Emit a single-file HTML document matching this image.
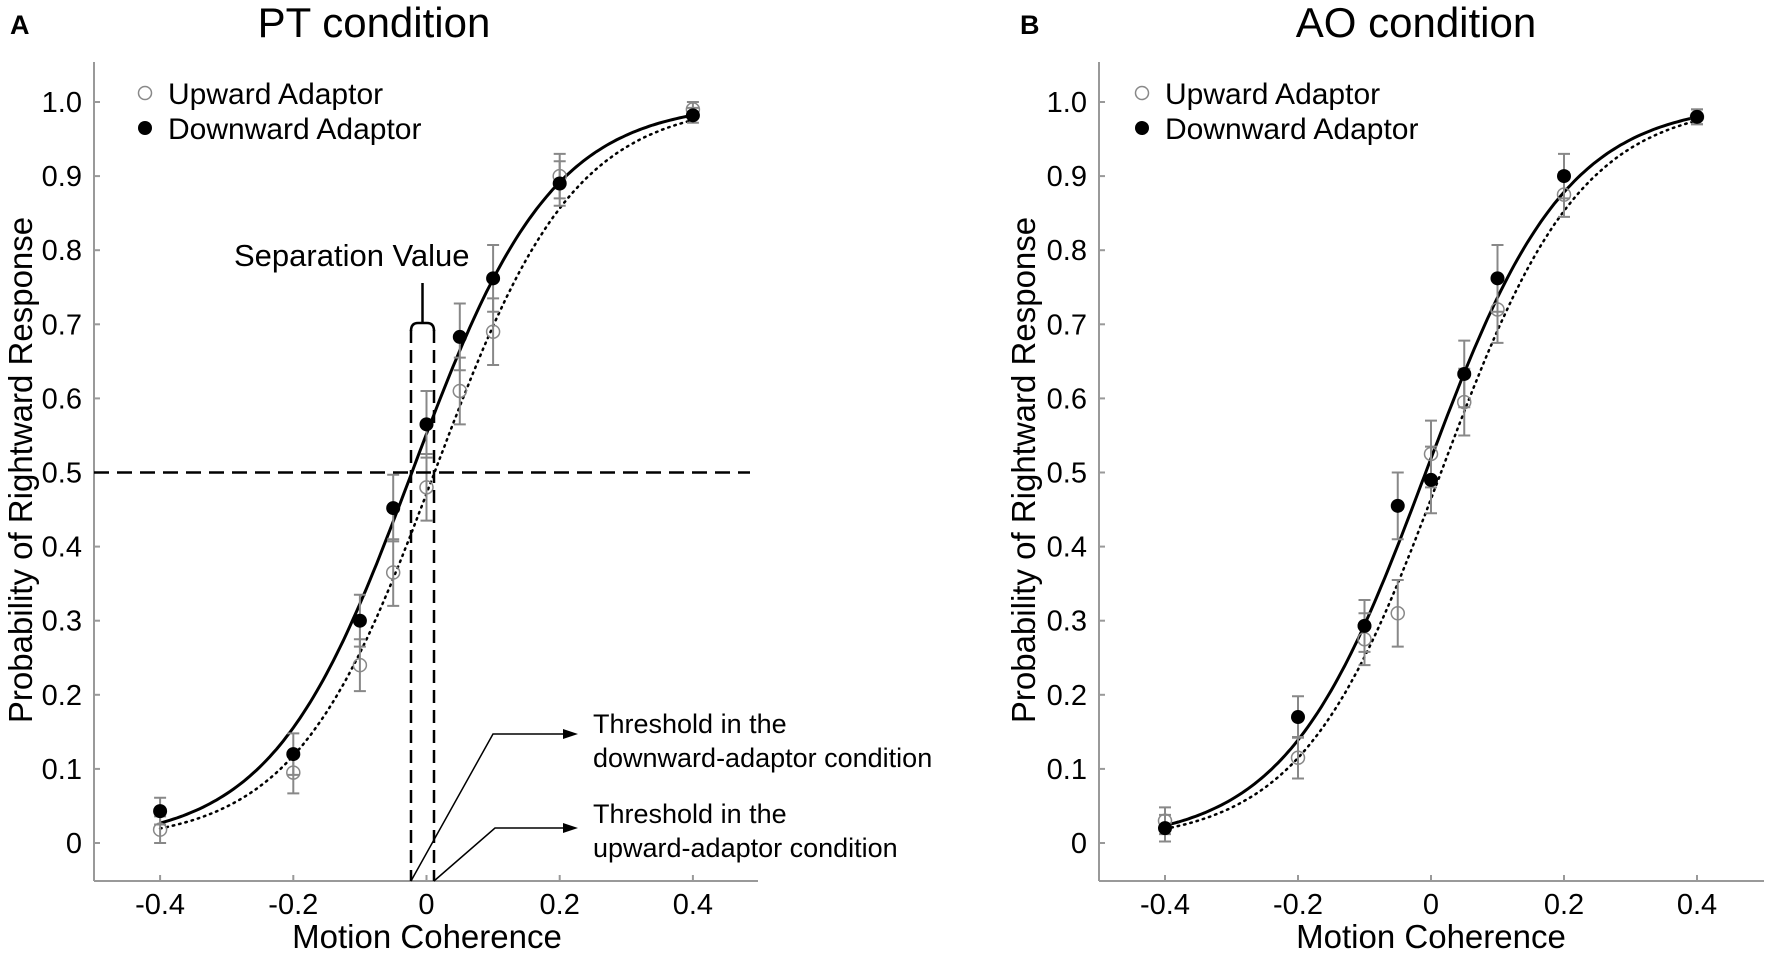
<!DOCTYPE html>
<html><head><meta charset="utf-8"><style>
html,body{margin:0;padding:0;background:#fff;}
svg{display:block;font-family:"Liberation Sans",sans-serif;}
</style></head><body>
<svg id="s" width="1772" height="957" viewBox="0 0 1772 957" xmlns="http://www.w3.org/2000/svg">
<rect width="1772" height="957" fill="#fff"/>
<text x="10" y="34" font-size="27" font-weight="bold">A</text>
<text x="374" y="37" font-size="42" text-anchor="middle">PT condition</text>
<text x="1020" y="34" font-size="27" font-weight="bold">B</text>
<text x="1416" y="37" font-size="42" text-anchor="middle">AO condition</text>
<g id="A"></g><g id="B"></g>
<text x="234" y="266" font-size="31">Separation Value</text>
<g font-size="27">
<text x="593" y="733">Threshold in the</text>
<text x="593" y="767">downward-adaptor condition</text>
<text x="593" y="823">Threshold in the</text>
<text x="593" y="857">upward-adaptor condition</text>
</g>
</svg>
<script>
const NS="http://www.w3.org/2000/svg";
function el(p,t,a,txt){const e=document.createElementNS(NS,t);for(const k in a)e.setAttribute(k,a[k]);if(txt!==undefined)e.textContent=txt;p.appendChild(e);return e;}
function panel(g,P){
 const X=v=>P.x0+v*P.sx, Y=v=>843-v*741;
 el(g,"line",{x1:P.ax,y1:62,x2:P.ax,y2:881,stroke:"#999","stroke-width":2});
 el(g,"line",{x1:P.ax,y1:881,x2:P.ar,y2:881,stroke:"#999","stroke-width":2});
 for(let i=0;i<=10;i++){const y=Y(i/10);el(g,"line",{x1:P.ax,y1:y,x2:P.ax+6,y2:y,stroke:"#999","stroke-width":2});
  el(g,"text",{x:P.ax-12,y:y+10,"font-size":29,"text-anchor":"end"},i==0?"0":i==10?"1.0":(i/10).toFixed(1));}
 [-0.4,-0.2,0,0.2,0.4].forEach(v=>{const x=X(v);el(g,"line",{x1:x,y1:881,x2:x,y2:875,stroke:"#999","stroke-width":2});
  el(g,"text",{x:x,y:914,"font-size":29,"text-anchor":"middle"},v==0?"0":v.toFixed(1));});
 el(g,"text",{x:P.xc,y:948,"font-size":33,"text-anchor":"middle"},"Motion Coherence");
 el(g,"text",{x:0,y:0,"font-size":33,"text-anchor":"middle",transform:`translate(${P.yl},470) rotate(-90)`},"Probability of Rightward Response");
 el(g,"circle",{cx:P.lg,cy:93,r:6.5,fill:"none",stroke:"#888","stroke-width":1.5});
 el(g,"text",{x:P.lg+23,y:104,"font-size":30},"Upward Adaptor");
 el(g,"circle",{cx:P.lg,cy:128,r:7,fill:"#000"});
 el(g,"text",{x:P.lg+23,y:139,"font-size":30},"Downward Adaptor");
 function curve(t,k,style){let d="";for(let v=-0.4;v<=0.4001;v+=0.005){const p=1/(1+Math.exp(-k*(v-t)));d+=(d?"L":"M")+X(v).toFixed(1)+","+Y(p).toFixed(1);}
  el(g,"path",Object.assign({d:d,fill:"none",stroke:"#000"},style));}
 curve(P.tu,P.k,{"stroke-width":2.5,"stroke-dasharray":"1.5,5","stroke-linecap":"round"});
 curve(P.td,P.k,{"stroke-width":3});
 const xs=[-0.4,-0.2,-0.1,-0.05,0,0.05,0.1,0.2,0.4];
 xs.forEach((v,i)=>{const x=X(v),e=P.eu[i];
  el(g,"path",{d:`M${x},${Y(P.up[i]-e)}V${Y(P.up[i]+e)}M${x-6},${Y(P.up[i]-e)}h12M${x-6},${Y(P.up[i]+e)}h12`,stroke:"#888","stroke-width":2,fill:"none"});
  el(g,"path",{d:`M${x},${Y(P.dn[i]-e)}V${Y(P.dn[i]+e)}M${x-6},${Y(P.dn[i]-e)}h12M${x-6},${Y(P.dn[i]+e)}h12`,stroke:"#888","stroke-width":2,fill:"none"});
  el(g,"circle",{cx:x,cy:Y(P.up[i]),r:6.5,fill:"none",stroke:"#888","stroke-width":1.5});
  el(g,"circle",{cx:x,cy:Y(P.dn[i]),r:7,fill:"#000"});});
}
const eu=[0.018,0.028,0.035,0.045,0.045,0.045,0.045,0.03,0.01];
panel(document.getElementById("A"),{x0:426.5,sx:666,ax:94,ar:758,xc:427,yl:32,lg:145,tu:0.012,td:-0.022,k:9.5,
 up:[0.018,0.095,0.24,0.365,0.48,0.61,0.69,0.9,0.99],dn:[0.043,0.12,0.30,0.452,0.565,0.683,0.762,0.89,0.982],eu:eu});
panel(document.getElementById("B"),{x0:1431,sx:665,ax:1099,ar:1764,xc:1431,yl:1035,lg:1142,tu:0.015,td:-0.008,k:9.5,
 up:[0.03,0.115,0.275,0.31,0.525,0.595,0.72,0.875,0.98],dn:[0.02,0.17,0.293,0.455,0.49,0.633,0.762,0.90,0.98],eu:eu});
const s=document.getElementById("s");
el(s,"line",{x1:94,y1:472.5,x2:750,y2:472.5,stroke:"#000","stroke-width":2.5,"stroke-dasharray":"15,8"});
el(s,"line",{x1:411,y1:330,x2:411,y2:881,stroke:"#000","stroke-width":2.5,"stroke-dasharray":"13,7"});
el(s,"line",{x1:434,y1:330,x2:434,y2:881,stroke:"#000","stroke-width":2.5,"stroke-dasharray":"13,7"});
el(s,"path",{d:"M411,331 Q411,323 418,323 L427,323 Q434,323 434,331 M422.5,323 V283",stroke:"#000","stroke-width":2.5,fill:"none"});
el(s,"path",{d:"M411,881 L493,734 L566,734 M434,881 L495,828 L566,828",stroke:"#000","stroke-width":1.5,fill:"none"});
el(s,"path",{d:"M578,734 L563,729 L563,739Z M578,828 L563,823 L563,833Z",fill:"#000"});
</script>
</body></html>
